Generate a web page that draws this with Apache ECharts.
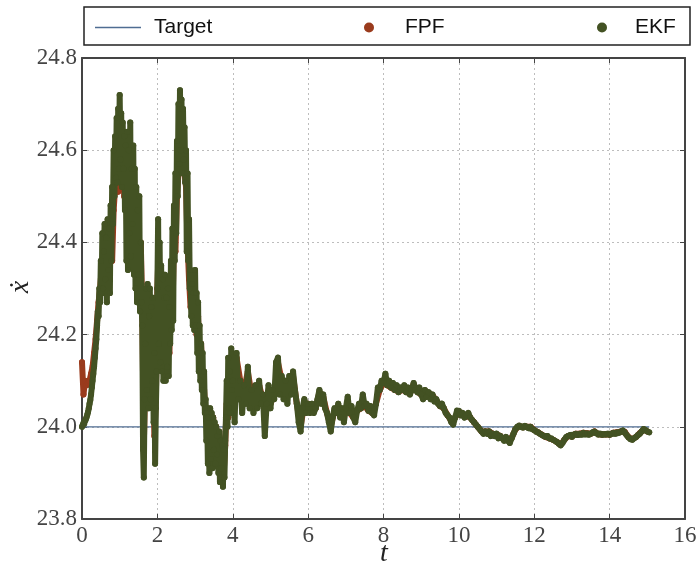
<!DOCTYPE html>
<html>
<head>
<meta charset="utf-8">
<script src="https://cdn.jsdelivr.net/npm/echarts@6/dist/echarts.min.js"></script>
<style>
  html, body { margin: 0; padding: 0; background: #fff; }
  #chart { width: 699px; height: 569px; }
</style>
</head>
<body>
<div id="chart"></div>
<script>
// Velocity estimate x-dot versus time t for two filters and the target value.

// EKF, fast transient: samples at t = 0.00, 0.02, ... 3.98
const ekfEarly = [
  24.00, 24.004, 24.008, 24.006, 24.012, 24.016, 24.02, 24.026, 24.032, 24.04,
  24.05, 24.058, 24.07, 24.085, 24.10, 24.115, 24.13, 24.15, 24.17, 24.19,
  24.22, 24.25, 24.24, 24.30, 24.27, 24.36, 24.29, 24.42, 24.30, 24.38,
  24.44, 24.32, 24.41, 24.27, 24.45, 24.34, 24.43, 24.29, 24.48, 24.36,
  24.52, 24.44, 24.60, 24.50, 24.63, 24.54, 24.67, 24.53, 24.69, 24.56,
  24.72, 24.58, 24.68, 24.52, 24.66, 24.56, 24.63, 24.47, 24.61, 24.36,
  24.64, 24.34, 24.60, 24.42, 24.66, 24.37, 24.56, 24.44, 24.61, 24.33,
  24.56, 24.30, 24.52, 24.27, 24.47, 24.33, 24.50, 24.25, 24.40, 24.27,
  24.22, 23.95, 23.89, 24.06, 24.18, 24.30, 24.08, 24.31, 24.04, 24.24,
  24.30, 24.06, 24.26, 24.10, 24.28, 24.01, 24.16, 23.92, 24.04, 24.12,
  24.30, 24.45, 24.18, 24.40, 24.14, 24.35, 24.12, 24.32, 24.10, 24.28,
  24.33, 24.10, 24.28, 24.13, 24.30, 24.11, 24.26, 24.18, 24.36, 24.21,
  24.43, 24.23, 24.48, 24.36, 24.55, 24.42, 24.62, 24.50, 24.70, 24.57,
  24.73, 24.60, 24.71, 24.55, 24.69, 24.58, 24.65, 24.53, 24.60, 24.38,
  24.55, 24.36, 24.45, 24.30, 24.34, 24.24, 24.31, 24.22, 24.29, 24.21,
  24.34, 24.22, 24.29, 24.16, 24.27, 24.12, 24.22, 24.10, 24.18, 24.08,
  24.16, 24.05, 24.12, 24.03, 24.06, 23.97, 24.03, 23.92, 24.02, 23.90,
  24.04, 23.93, 24.03, 23.91, 24.02, 23.95, 24.01, 23.92, 24.00, 23.94,
  23.98, 23.90, 23.99, 23.88, 23.97, 23.91, 23.96, 23.87, 23.95, 23.89,
  23.97, 24.02, 24.10, 24.00, 24.15, 24.04, 24.12, 24.03, 24.17, 24.08
];

// EKF, settling phase: samples at t = 4.00, 4.05, ... 15.05
const ekfLate = [
  24.10, 24.01, 24.16, 24.06, 24.10, 24.03, 24.09, 24.05, 24.13, 24.04, 24.08, 24.03, 24.09, 24.04, 24.10, 24.05, 24.07, 23.98, 24.05, 24.09,
  24.04, 24.08, 24.06, 24.14, 24.15, 24.07, 24.11, 24.06, 24.10, 24.05, 24.11, 24.07, 24.12, 24.08, 24.05, 24.01, 23.99, 24.04, 24.06, 24.03,
  24.05, 24.03, 24.05, 24.03, 24.04, 24.06, 24.08, 24.05, 24.07, 24.04, 24.03, 24.01, 23.99, 24.02, 24.04, 24.03, 24.05, 24.02, 24.04, 24.01,
  24.04, 24.065, 24.03, 24.045, 24.02, 24.01, 24.035, 24.05, 24.04, 24.07, 24.045, 24.05, 24.035, 24.045, 24.03, 24.025, 24.05, 24.085, 24.08, 24.10,
  24.095, 24.115, 24.09, 24.10, 24.085, 24.095, 24.08, 24.09, 24.075, 24.085, 24.08, 24.09, 24.075, 24.085, 24.07, 24.08, 24.095, 24.08, 24.075, 24.085,
  24.07, 24.06, 24.08, 24.065, 24.075, 24.06, 24.07, 24.055, 24.06, 24.05, 24.045, 24.05, 24.04, 24.03, 24.025, 24.02, 24.01, 24.005, 24.02, 24.035,
  24.035, 24.025, 24.03, 24.02, 24.025, 24.03, 24.02, 24.015, 24.01, 24.005, 24.0, 23.995, 23.99, 23.985, 23.99, 23.985, 23.99, 23.98, 23.985, 23.98,
  23.985, 23.975, 23.98, 23.975, 23.97, 23.978, 23.97, 23.965, 23.975, 23.985, 23.995, 24.0, 24.003, 24.0, 23.998, 24.002, 24.0, 23.997, 24.0, 23.995,
  23.993, 23.99, 23.988, 23.985, 23.983, 23.98, 23.978, 23.98, 23.975, 23.975, 23.972, 23.97, 23.967, 23.963, 23.96, 23.965, 23.972, 23.978, 23.98, 23.982,
  23.978, 23.983, 23.985, 23.982, 23.985, 23.983, 23.987, 23.984, 23.986, 23.983, 23.985, 23.988, 23.99, 23.986, 23.983, 23.985, 23.982, 23.984, 23.983, 23.985,
  23.982, 23.985, 23.987, 23.985, 23.988, 23.987, 23.99, 23.992, 23.988, 23.982, 23.977, 23.973, 23.972, 23.975, 23.978, 23.982, 23.985, 23.99, 23.995, 23.993,
  23.99, 23.988
];

// FPF, fast transient: samples at t = 0.00, 0.04, ... 3.96
const fpfEarly = [
  24.14, 24.07, 24.10, 24.09, 24.095, 24.10, 24.115, 24.13, 24.16, 24.19,
  24.23, 24.27, 24.30, 24.34, 24.30, 24.38, 24.32, 24.40, 24.33, 24.42,
  24.36, 24.47, 24.52, 24.53, 24.51, 24.54, 24.52, 24.60, 24.50, 24.62,
  24.40, 24.58, 24.42, 24.55, 24.38, 24.50, 24.30, 24.45, 24.28, 24.40,
  24.25, 23.96, 24.10, 24.28, 24.05, 24.25, 24.08, 24.20, 23.98, 24.06,
  24.30, 24.40, 24.18, 24.32, 24.14, 24.28, 24.12, 24.26, 24.16, 24.30,
  24.25, 24.40, 24.38, 24.50, 24.55, 24.62, 24.56, 24.64, 24.55, 24.52,
  24.40, 24.32, 24.26, 24.30, 24.23, 24.28, 24.20, 24.24, 24.14, 24.18,
  24.10, 24.08, 24.03, 24.04, 23.96, 24.03, 23.94, 24.02, 23.95, 24.00,
  23.93, 23.98, 23.92, 23.97, 23.90, 23.96, 24.05, 24.02, 24.12, 24.06
];

// FPF, settling phase: samples at t = 4.0, 4.1, ... 15.0
const fpfLate = [
  24.08, 24.15, 24.10, 24.08, 24.12, 24.07, 24.08, 24.09, 24.06, 24.05,
  24.05, 24.07, 24.14, 24.10, 24.09, 24.10, 24.11, 24.05, 24.00, 24.05,
  24.05, 24.045, 24.04, 24.075, 24.065, 24.03, 24.0, 24.035, 24.045, 24.035,
  24.04, 24.03, 24.02, 24.035, 24.04, 24.045, 24.035, 24.03, 24.05, 24.08,
  24.095, 24.09, 24.085, 24.08, 24.076, 24.08, 24.076, 24.072, 24.092, 24.076,
  24.07, 24.078, 24.073, 24.068, 24.058, 24.045, 24.04, 24.025, 24.012, 24.02,
  24.033, 24.028, 24.024, 24.02, 24.01, 24.0, 23.99, 23.99, 23.99, 23.985,
  23.984, 23.98, 23.972, 23.971, 23.976, 23.994, 24.002, 23.999, 24.0, 24.0,
  23.993, 23.988, 23.983, 23.978, 23.975, 23.972, 23.967, 23.961, 23.972, 23.98,
  23.979, 23.985, 23.985, 23.987, 23.986, 23.985, 23.99, 23.984, 23.983, 23.984,
  23.983, 23.987, 23.988, 23.99, 23.989, 23.978, 23.973, 23.978, 23.986, 23.994,
  23.99
];

// Target value over the run
const targetT = [0, 15.05];
const targetV = [24.0, 24.0];

// Axis ticks and titles
const xTicks = [0, 2, 4, 6, 8, 10, 12, 14, 16];
const yTicks = [23.8, 24.0, 24.2, 24.4, 24.6, 24.8];
const xTitle = 't';
const yTitle = 'ẋ';

// Attach sample times to a uniformly sampled block
function withTimes(values, t0, dt) {
  return values.map((v, i) => [+(t0 + i * dt).toFixed(3), v]);
}

const ekfData = withTimes(ekfEarly, 0, 0.02).concat(withTimes(ekfLate, 4, 0.05));
const fpfData = withTimes(fpfEarly, 0, 0.04).concat(withTimes(fpfLate, 4, 0.1));
const targetData = targetT.map((t, i) => [t, targetV[i]]);

const FPF_COLOR = '#9a3b1d';
const EKF_COLOR = '#435223';
const TARGET_COLOR = '#4f6d92';
const FRAME = '#444';
const SERIF = '"Liberation Serif", "DejaVu Serif", serif';
const SANS = '"Liberation Sans", Arial, sans-serif';

const chart = echarts.init(document.getElementById('chart'), null, { renderer: 'canvas' });

function xAxisBase(pos) {
  return {
    type: 'value', position: pos,
    min: xTicks[0], max: xTicks[xTicks.length - 1], interval: 2,
    axisLine: { show: true, onZero: false, lineStyle: { color: FRAME, width: 2 } },
    axisTick: { show: true, inside: true, length: 5, lineStyle: { color: FRAME, width: 1 } },
    splitLine: { show: false }
  };
}
function yAxisBase(pos) {
  return {
    type: 'value', position: pos,
    min: yTicks[0], max: yTicks[yTicks.length - 1], interval: 0.2,
    axisLine: { show: true, onZero: false, lineStyle: { color: FRAME, width: 2 } },
    axisTick: { show: true, inside: true, length: 5, lineStyle: { color: FRAME, width: 1 } },
    splitLine: { show: false }
  };
}

const lineLike = (name, data, color, z) => ({
  name, type: 'line', data, z,
  symbol: 'circle', symbolSize: 6, showSymbol: true, showAllSymbol: true,
  itemStyle: { color },
  lineStyle: { color, width: 6, join: 'round', cap: 'round' },
  emphasis: { disabled: true },
  silent: true, animation: false
});

const legendText = (pad) => ({
  fontSize: 21, fontFamily: SANS, color: '#111', padding: [0, 0, 0, pad]
});

chart.setOption({
  animation: false,
  backgroundColor: '#fff',
  grid: { left: 82, right: 14, top: 58, bottom: 50, containLabel: false, outerBoundsMode: 'none' },
  graphic: [
    {
      type: 'rect', z: -1,
      shape: { x: 84, y: 7, width: 606, height: 38 },
      style: { fill: '#fff', stroke: '#222', lineWidth: 1.5 }
    },
    {
      type: 'text', x: 384, y: 554,
      style: { text: xTitle, font: 'italic 28px ' + SERIF, fill: '#222',
        align: 'center', verticalAlign: 'middle' }
    },
    {
      type: 'text', x: 21, y: 287, rotation: Math.PI / 2,
      style: { text: yTitle, font: 'italic 28px ' + SERIF, fill: '#222',
        align: 'center', verticalAlign: 'middle' }
    }
  ],
  legend: [
    { data: [{ name: 'Target', icon: 'rect' }], left: 90, top: 12, itemWidth: 46, itemHeight: 1.5,
      textStyle: legendText(8), selectedMode: false },
    { data: [{ name: 'FPF', icon: 'circle' }], left: 359, top: 12, itemWidth: 10, itemHeight: 10,
      textStyle: legendText(26), selectedMode: false },
    { data: [{ name: 'EKF', icon: 'circle' }], left: 592, top: 12, itemWidth: 10, itemHeight: 10,
      textStyle: legendText(23), selectedMode: false }
  ],
  xAxis: [
    Object.assign(xAxisBase('bottom'), {
      axisLabel: { show: true, margin: 5, fontFamily: SERIF, fontSize: 23, color: '#444',
        formatter: v => String(v) },
      splitLine: { show: true, lineStyle: { color: '#bdbdbd', type: [2, 3], width: 1 } }
    }),
    Object.assign(xAxisBase('top'), { axisLabel: { show: false } })
  ],
  yAxis: [
    Object.assign(yAxisBase('left'), {
      axisLabel: { show: true, margin: 5, fontFamily: SERIF, fontSize: 23, color: '#444',
        formatter: v => v.toFixed(1) },
      splitLine: { show: true, lineStyle: { color: '#bdbdbd', type: [2, 3], width: 1 } }
    }),
    Object.assign(yAxisBase('right'), { axisLabel: { show: false } })
  ],
  series: [
    {
      name: 'Target', type: 'line', data: targetData, z: 2,
      symbol: 'none', itemStyle: { color: TARGET_COLOR },
      lineStyle: { color: TARGET_COLOR, width: 1.3 },
      emphasis: { disabled: true }, silent: true, animation: false
    },
    lineLike('FPF', fpfData, FPF_COLOR, 3),
    lineLike('EKF', ekfData, EKF_COLOR, 4)
  ]
});
</script>
</body>
</html>
